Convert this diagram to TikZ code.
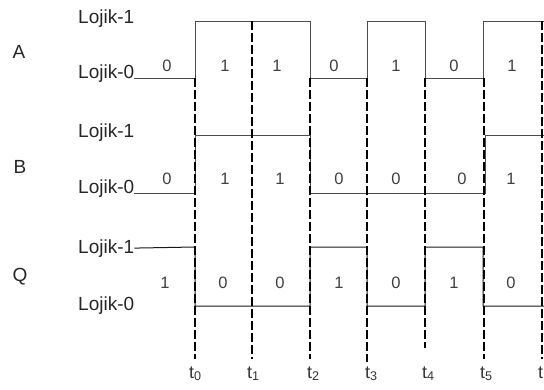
\documentclass[tikz,border=0pt]{standalone}
\usepackage{fontspec}
\setmainfont{Liberation Sans}
\begin{document}
\begin{tikzpicture}[x=1pt,y=-1pt,
    sig/.style={draw=black!70,line width=1pt},
    tline/.style={draw=black,line width=2.2pt,dash pattern=on 9pt off 3pt},
    lvl/.style={font=\fontsize{19}{21}\selectfont,inner sep=0pt,text=black!85},
    bit/.style={font=\fontsize{16.5}{18}\selectfont,inner sep=0pt,text=black!75},
    sname/.style={font=\fontsize{19}{21}\selectfont,inner sep=0pt,text=black!85},
    tlab/.style={font=\fontsize{18}{20}\selectfont,inner sep=0pt,anchor=base west,text=black!80}]
    \useasboundingbox (0,0) rectangle (544,389);

    % signal names
    \node[sname] (A) at (19,52) {A};
    \node[sname] (B) at (20,167) {B};
    \node[sname] (Q) at (20,277) {Q};

    % logic levels
    \node[lvl,anchor=base west] (a1) at (78,23) {Lojik-1};
    \node[lvl,anchor=base west] (a0) at (78,78) {Lojik-0};
    \node[lvl,anchor=base west] (b1) at (78,137) {Lojik-1};
    \node[lvl,anchor=base west] (b0) at (78,193) {Lojik-0};
    \node[lvl,anchor=base west] (q1) at (78,253) {Lojik-1};
    \node[lvl,anchor=base west] (q0) at (78,310) {Lojik-0};

    % waveforms
    \draw[sig] (a0.base east) -- (195,78) -- (195,21) -- (310,21) -- (310,78)
        -- (367,78) -- (367,21) -- (425,21) -- (425,78) -- (483,78) -- (483,21) -- (544,21);
    \draw[sig] (b0.base east) -- (195,193) -- (195,135) -- (310,135) -- (310,193)
        -- (485,193) -- (485,135) -- (544,135);
    \draw[sig,draw=black!90] (q1.east) -- (195,247) -- (195,306) -- (310,306) -- (310,247)
        -- (367,247) -- (367,306) -- (425,306) -- (425,247) -- (483,247) -- (483,306) -- (544,306);

    % bit values
    \node[bit] (a00) at (167,66) {0};
    \node[bit] (a01) at (225,66) {1};
    \node[bit] (a02) at (277,66) {1};
    \node[bit] (a03) at (334,66) {0};
    \node[bit] (a04) at (396,66) {1};
    \node[bit] (a05) at (454,66) {0};
    \node[bit] (a06) at (512,66) {1};

    \node[bit] (b00) at (167,179) {0};
    \node[bit] (b01) at (225,179) {1};
    \node[bit] (b02) at (280,179) {1};
    \node[bit] (b03) at (339,179) {0};
    \node[bit] (b04) at (396,179) {0};
    \node[bit] (b05) at (462,179) {0};
    \node[bit] (b06) at (511,179) {1};

    \node[bit] (q00) at (165,283) {1};
    \node[bit] (q01) at (223,283) {0};
    \node[bit] (q02) at (280,283) {0};
    \node[bit] (q03) at (339,283) {1};
    \node[bit] (q04) at (396,283) {0};
    \node[bit] (q05) at (454,283) {1};
    \node[bit] (q06) at (511,283) {0};

    % time marks
    \draw[tline] (195,78) -- (195,359);
    \draw[tline] (252,21) -- (252,359);
    \draw[tline] (310,78) -- (310,359);
    \draw[tline] (367,78) -- (367,362);
    \draw[tline] (425,78) -- (425,348);
    \draw[tline] (484,78) -- (484,359);
    \draw[tline] (542,21) -- (542,359);

    \node[tlab] (t0) at (189,378) {t\textsubscript{0}};
    \node[tlab] (t1) at (247,378) {t\textsubscript{1}};
    \node[tlab] (t2) at (307,378) {t\textsubscript{2}};
    \node[tlab] (t3) at (365,378) {t\textsubscript{3}};
    \node[tlab] (t4) at (422,378) {t\textsubscript{4}};
    \node[tlab] (t5) at (480,378) {t\textsubscript{5}};
    \node[tlab] (t6) at (538,378) {t};
\end{tikzpicture}
\end{document}
